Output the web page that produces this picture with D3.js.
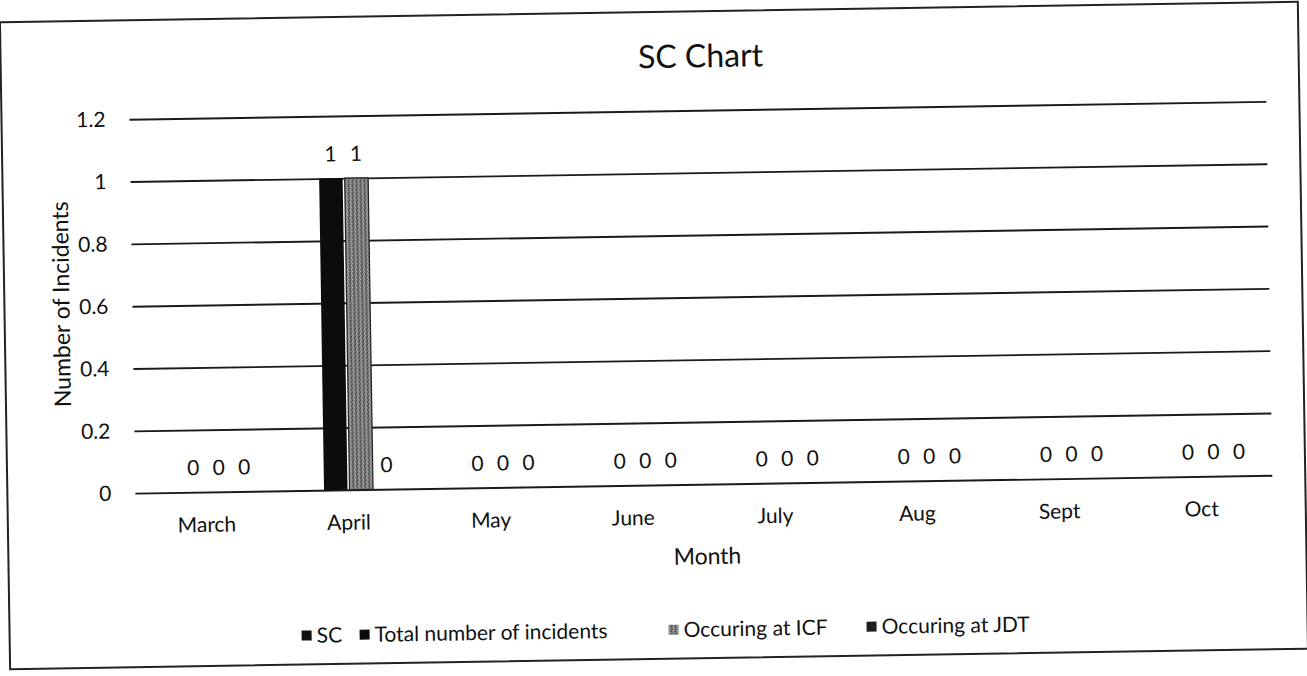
<!DOCTYPE html>
<html lang="en">
<head>
<meta charset="UTF-8">
<script src="https://d3js.org/d3.v7.min.js"></script>
<title>SC Chart</title>
<style>
    body { margin: 0; background: #fff; }
    text { font-family: Lato, "Open Sans", sans-serif; fill: #111; }
</style>
</head>
<body>
<script>

    // chart data
    var months = ["March", "April", "May", "June", "July", "Aug", "Sept", "Oct"];
    var seriesNames = ["SC", "Total number of incidents", "Occuring at ICF", "Occuring at JDT"];
    var scValues = [null, null, null, null, null, null, null, null];
    var totalValues = [0, 1, 0, 0, 0, 0, 0, 0];
    var icfValues = [0, 1, 0, 0, 0, 0, 0, 0];
    var jdtValues = [0, 0, 0, 0, 0, 0, 0, 0];
    var yTicks = [0, 0.2, 0.4, 0.6, 0.8, 1, 1.2];

    var seriesValues = [scValues, totalValues, icfValues, jdtValues];

    var width = 1307, height = 676;
    var margin = {top: 111, right: 37, bottom: 191, left: 133};
    var plotBottom = height - margin.bottom;

    var svg = d3.select("body")
        .append("svg")
        .attr("width", width)
        .attr("height", height);

    // grey dithered fill, like the scanned ICF bar
    var pat = svg.append("defs").append("pattern")
        .attr("id", "icfFill")
        .attr("width", 4).attr("height", 4)
        .attr("patternUnits", "userSpaceOnUse");
    pat.append("rect").attr("width", 4).attr("height", 4).attr("fill", "#7c7c7c");
    [[0, 0, "#e0e0e0"], [2, 1, "#222"], [1, 2, "#c8c8c8"], [3, 3, "#333"], [3, 0, "#4a4a4a"]].forEach(function(p) {
        pat.append("rect").attr("x", p[0]).attr("y", p[1]).attr("width", 1).attr("height", 1).attr("fill", p[2]);
    });

    var colors = {
        "SC": "#111",
        "Total number of incidents": "#0c0c0c",
        "Occuring at ICF": "url(#icfFill)",
        "Occuring at JDT": "#1e1e1e"
    };

    // the scan is a little tilted, so the whole page is turned the same way
    var chart = svg.append("g").attr("transform", "rotate(-0.9,654,338)");

    chart.append("rect")
        .attr("x", 5).attr("y", 12)
        .attr("width", 1298).attr("height", 647)
        .attr("fill", "none")
        .attr("stroke", "#222")
        .attr("stroke-width", 2);

    chart.append("text")
        .attr("x", 705).attr("y", 68)
        .attr("text-anchor", "middle")
        .attr("font-size", 32)
        .text("SC Chart");

    var x0 = d3.scaleBand()
        .domain(months)
        .range([margin.left, width - margin.right])
        .paddingInner(0.296)
        .paddingOuter(0.148);

    var x1 = d3.scaleBand()
        .domain(seriesNames)
        .range([0, x0.bandwidth()])
        .paddingInner(0.08);

    var y = d3.scaleLinear()
        .domain([0, 1.2])
        .range([plotBottom, margin.top]);

    // gridlines and y labels
    var yAxis = chart.append("g")
        .attr("class", "y axis")
        .attr("transform", "translate(" + margin.left + ",0)")
        .call(d3.axisLeft(y)
            .tickValues(yTicks)
            .tickSize(-(width - margin.right - margin.left))
            .tickPadding(24)
            .tickFormat(d3.format("~g")));
    yAxis.select(".domain").remove();
    yAxis.selectAll("line").attr("stroke", "#1a1a1a").attr("stroke-width", 1.9);
    yAxis.selectAll("text").attr("font-size", 21).attr("font-family", null);

    var xAxis = chart.append("g")
        .attr("class", "x axis")
        .attr("transform", "translate(0," + y(0) + ")")
        .call(d3.axisBottom(x0).tickSize(0).tickPadding(25));
    xAxis.select(".domain").remove();
    xAxis.selectAll("text").attr("font-size", 21).attr("font-family", null);

    chart.append("text")
        .attr("x", 704).attr("y", 565)
        .attr("text-anchor", "middle")
        .attr("font-size", 23)
        .text("Month");

    chart.append("text")
        .attr("transform", "translate(62,295) rotate(-90)")
        .attr("text-anchor", "middle")
        .attr("dy", "0.35em")
        .attr("font-size", 23)
        .text("Number of Incidents");

    // bars and value labels
    var rows = [];
    seriesNames.forEach(function(s, i) {
        months.forEach(function(m, j) {
            if (seriesValues[i][j] !== null) rows.push({series: s, month: m, value: seriesValues[i][j]});
        });
    });

    chart.selectAll(".bars")
        .data(rows.filter(function(d) { return d.value > 0; }))
        .enter()
        .append("rect")
        .attr("class", "bars")
        .attr("x", function(d) { return x0(d.month) + x1(d.series); })
        .attr("y", function(d) { return y(d.value); })
        .attr("width", x1.bandwidth())
        .attr("height", function(d) { return y(0) - y(d.value); })
        .attr("fill", function(d) { return colors[d.series]; })
        .attr("stroke", function(d) { return d.series == "Occuring at ICF" ? "#222" : "none"; })
        .attr("stroke-width", 1.2);

    chart.selectAll(".vlabel")
        .data(rows)
        .enter()
        .append("text")
        .attr("class", "vlabel")
        .attr("x", function(d) { return x0(d.month) + x1(d.series) + x1.bandwidth() / 2; })
        .attr("y", function(d) { return y(d.value) - 17; })
        .attr("text-anchor", "middle")
        .attr("font-size", 21)
        .text(function(d) { return d.value; });

    // legend along the bottom, entries placed where the scan has them
    var legendX = [297, 355, 664, 862];
    var legend = chart.append("g")
        .attr("class", "legend")
        .attr("transform", "translate(0,630)");
    var items = legend.selectAll("g")
        .data(seriesNames)
        .enter()
        .append("g")
        .attr("transform", function(d, i) { return "translate(" + legendX[i] + ",0)"; });
    items.append("rect")
        .attr("width", 10).attr("height", 10)
        .attr("y", -5)
        .attr("fill", function(d) { return colors[d]; });
    items.append("text")
        .attr("x", 15)
        .attr("dy", "0.35em")
        .attr("font-size", 21)
        .text(function(d) { return d; });

</script>
</body>
</html>
